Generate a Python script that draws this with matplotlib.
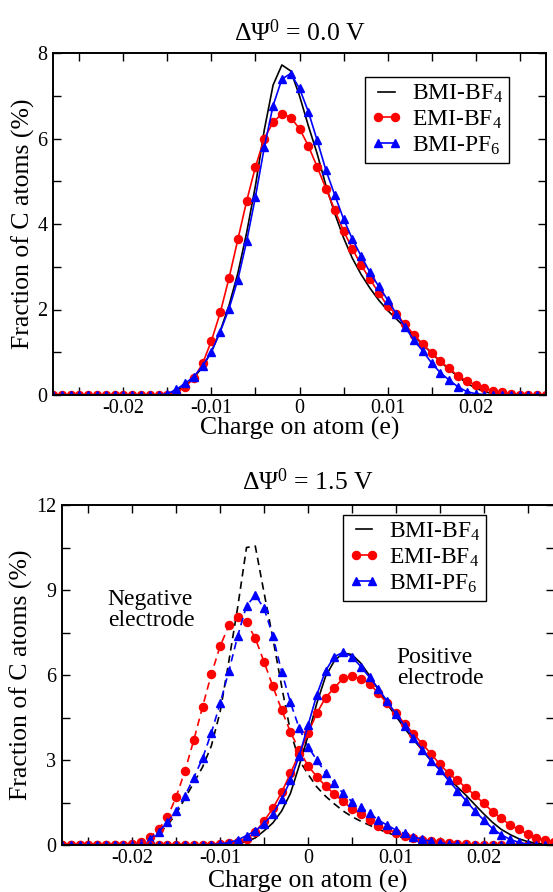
import numpy as np
import matplotlib
matplotlib.use('Agg')
import matplotlib.pyplot as plt
from matplotlib.ticker import MultipleLocator

plt.rcParams['font.family'] = ['Liberation Serif', 'DejaVu Serif']
plt.rcParams['mathtext.fontset'] = 'custom'
plt.rcParams['mathtext.rm'] = 'Liberation Serif'
plt.rcParams['mathtext.it'] = 'Liberation Serif:italic'
plt.rcParams['axes.unicode_minus'] = False

# charge bins (units of 0.001 e)
charge_milli = [-28, -27, -26, -25, -24, -23, -22, -21, -20, -19, -18, -17, -16, -15,
                -14, -13, -12, -11, -10, -9, -8, -7, -6, -5, -4, -3, -2, -1, 0,
                1, 2, 3, 4, 5, 6, 7, 8, 9, 10, 11, 12, 13, 14, 15, 16, 17, 18, 19,
                20, 21, 22, 23, 24, 25, 26, 27, 28]
q = np.array(charge_milli) * 0.001

# ---- dPsi = 0.0 V ----
bmi_bf4_0 = [0]*13 + [0.02, 0.1, 0.22, 0.4, 0.66, 1.02, 1.5, 2.1, 2.85, 3.8, 4.9, 6.2, 7.25,
                      7.72, 7.58, 7.0, 6.3, 5.65, 4.9, 4.25, 3.68, 3.2, 2.82, 2.5, 2.22,
                      1.98, 1.78, 1.58, 1.38, 1.18, 0.98, 0.78, 0.6, 0.43, 0.28, 0.16, 0.08,
                      0.03, 0.01] + [0]*5
emi_bf4_0 = [0]*13 + [0.01, 0.05, 0.19, 0.39, 0.74, 1.27, 1.93, 2.74, 3.64, 4.54, 5.34, 6.0,
                      6.38, 6.58, 6.49, 6.23, 5.83, 5.34, 4.83, 4.33, 3.84, 3.42, 3.04, 2.71,
                      2.39, 2.08, 1.89, 1.65, 1.41, 1.19, 0.99, 0.79, 0.62, 0.45, 0.33, 0.23,
                      0.16, 0.1, 0.06, 0.03, 0.01] + [0]*3
bmi_pf6_0 = [0]*13 + [0.03, 0.13, 0.27, 0.43, 0.68, 1.01, 1.48, 2.02, 2.7, 3.6, 4.64, 5.79,
                      6.77, 7.39, 7.52, 7.17, 6.63, 5.96, 5.26, 4.68, 4.12, 3.65, 3.25, 2.87,
                      2.54, 2.23, 1.9, 1.59, 1.28, 1.03, 0.75, 0.52, 0.35, 0.19, 0.08, 0.03,
                      0.01] + [0]*7

# ---- dPsi = 1.5 V, negative electrode ----
bmi_bf4_neg = [0]*9 + [0.05, 0.18, 0.4, 0.7, 1.1, 1.65, 2.2, 2.75, 3.5, 4.7, 6.5, 8.4, 10.5,
                       10.55, 8.9, 7.3, 5.6, 4.0, 3.0, 2.5, 2.05, 1.72, 1.45, 1.2, 1.0, 0.84,
                       0.7, 0.56, 0.44, 0.33, 0.24, 0.16, 0.1, 0.05, 0.02] + [0]*13
emi_bf4_neg = [0]*8 + [0.03, 0.1, 0.27, 0.55, 0.98, 1.7, 2.62, 3.7, 4.88, 6.03, 7.02, 7.75,
                       8.04, 7.86, 7.3, 6.46, 5.6, 4.77, 3.99, 3.35, 2.8, 2.41, 2.08, 1.79,
                       1.54, 1.28, 1.09, 0.87, 0.68, 0.55, 0.44, 0.33, 0.25, 0.18, 0.13, 0.09,
                       0.06, 0.04, 0.02, 0.01] + [0]*9
bmi_pf6_neg = [0]*8 + [0.02, 0.06, 0.22, 0.47, 0.81, 1.19, 1.74, 2.38, 3.06, 3.96, 5.0, 6.15,
                       7.38, 8.44, 8.82, 8.35, 7.38, 6.12, 5.03, 4.12, 3.47, 3.0, 2.55, 2.18,
                       1.82, 1.53, 1.33, 1.12, 0.88, 0.7, 0.53, 0.41, 0.29, 0.2, 0.13, 0.08,
                       0.04, 0.02, 0.01] + [0]*10

# ---- dPsi = 1.5 V, positive electrode ----
bmi_bf4_pos = [0]*19 + [0.02, 0.05, 0.12, 0.25, 0.5, 0.78, 1.2, 1.82, 2.8, 3.85, 5.0, 5.95,
                        6.5, 6.78, 6.72, 6.42, 5.98, 5.48, 4.98, 4.55, 4.12, 3.72, 3.35, 2.98,
                        2.67, 2.35, 2.05, 1.75, 1.42, 1.1, 0.8, 0.55, 0.37, 0.22, 0.12, 0.06,
                        0.02, 0]
emi_bf4_pos = [0]*17 + [0.01, 0.03, 0.06, 0.12, 0.21, 0.45, 0.85, 1.29, 1.86, 2.53, 3.22, 3.94,
                        4.65, 5.2, 5.55, 5.88, 5.95, 5.87, 5.7, 5.36, 5.0, 4.65, 4.28, 3.93,
                        3.57, 3.22, 2.85, 2.53, 2.28, 2.02, 1.75, 1.47, 1.18, 0.94, 0.71, 0.55,
                        0.39, 0.25, 0.17, 0.11]
bmi_pf6_pos = [0]*17 + [0.01, 0.04, 0.08, 0.18, 0.33, 0.5, 0.75, 1.1, 1.62, 2.28, 3.15, 4.22,
                        5.3, 6.15, 6.65, 6.8, 6.65, 6.3, 5.92, 5.52, 5.08, 4.63, 4.2, 3.78,
                        3.37, 2.98, 2.65, 2.28, 1.92, 1.56, 1.2, 0.88, 0.58, 0.36, 0.2, 0.09,
                        0.03, 0.01] + [0]*2

labels = ['BMI-BF$_4$', 'EMI-BF$_4$', 'BMI-PF$_6$']

lw = 1.2
ms = 5.8
dash = (0, (4.5, 3))

fig = plt.figure(figsize=(5.53, 8.92), dpi=100)
ax1 = fig.add_axes([53/553, (892-395)/892, 493/553, 342/892])
ax2 = fig.add_axes([62/553, 47/892, 492/553, 340/892])


def style(ax, ymax, ystep, xpad):
    ax.set_xlim(-0.028, 0.028)
    ax.set_ylim(0, ymax)
    ax.set_xticks([-0.02, -0.01, 0, 0.01, 0.02])
    ax.set_xticklabels(['-0.02', '-0.01', '0', '0.01', '0.02'])
    ax.xaxis.set_minor_locator(MultipleLocator(0.005))
    ax.yaxis.set_major_locator(MultipleLocator(ystep))
    ax.yaxis.set_minor_locator(MultipleLocator(ystep/2))
    ax.tick_params(which='both', direction='in', top=True, right=True,
                   length=6, width=1.0, labelsize=14.5)
    ax.tick_params(axis='x', pad=3)
    ax.tick_params(axis='y', pad=4)
    for s in ax.spines.values():
        s.set_linewidth(1.4)
    ax.set_xlabel('Charge on atom (e)', fontsize=18.5, labelpad=xpad)
    ax.set_ylabel('Fraction of C atoms (%)', fontsize=18.5, labelpad=2)


def legend(ax, anchor):
    ax.legend(loc='upper right', bbox_to_anchor=anchor, borderaxespad=0,
              fontsize=17, numpoints=2, handlelength=1.3, handletextpad=0.4,
              labelspacing=0.15, borderpad=0.25, fancybox=False, framealpha=1,
              edgecolor='black')


# top panel
ax1.plot(q, bmi_bf4_0, '-', color='black', lw=lw, label=labels[0])
ax1.plot(q, emi_bf4_0, '-o', color='red', lw=lw, ms=ms, label=labels[1])
ax1.plot(q, bmi_pf6_0, '-^', color='blue', lw=lw, ms=ms, label=labels[2])
style(ax1, 8, 2, -1)
ax1.set_title('ΔΨ$^0$ = 0.0 V', fontsize=18.5, pad=9)
legend(ax1, (0.925, 0.93))

# bottom panel
ax2.plot(q, bmi_bf4_neg, color='black', lw=lw, ls=dash)
ax2.plot(q, emi_bf4_neg, '-o', color='red', lw=lw, ms=ms, ls=dash)
ax2.plot(q, bmi_pf6_neg, '-^', color='blue', lw=lw, ms=ms, ls=dash)
ax2.plot(q, bmi_bf4_pos, '-', color='black', lw=lw, label=labels[0])
ax2.plot(q, emi_bf4_pos, '-o', color='red', lw=lw, ms=ms, label=labels[1])
ax2.plot(q, bmi_pf6_pos, '-^', color='blue', lw=lw, ms=ms, label=labels[2])
style(ax2, 12, 3, 1)
ax2.set_title('ΔΨ$^0$ = 1.5 V', fontsize=18.5, pad=11)
legend(ax2, (0.862, 0.971))
ax2.text(-0.0228, 9.05, 'Negative\nelectrode', fontsize=17, va='top', ha='left',
         linespacing=1.0)
ax2.text(0.0101, 7.0, 'Positive\nelectrode', fontsize=17, va='top', ha='left',
         linespacing=1.0)

fig.savefig('out.png', dpi=100)
